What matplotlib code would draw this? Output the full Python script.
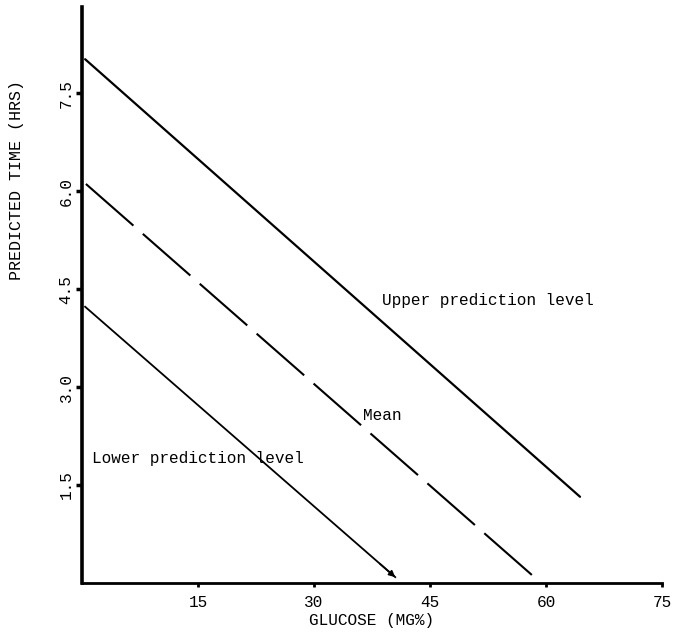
import matplotlib
matplotlib.use('Agg')
import matplotlib.pyplot as plt

# line end points (glucose mg%, predicted hrs)
upper_x = [0.4, 64.4]
upper_y = [8.02, 1.32]
mean_x = [0.5, 58.2]
mean_y = [6.11, 0.12]
lower_x = [0.4, 40.5]
lower_y = [4.23, 0.09]

xticks = [15, 30, 45, 60, 75]
yticks = [1.5, 3.0, 4.5, 6.0, 7.5]

plt.rcParams['font.family'] = ['Liberation Mono', 'DejaVu Sans Mono']
plt.rcParams['lines.scale_dashes'] = False

fig = plt.figure(figsize=(6.74, 6.33), dpi=100)
ax = fig.add_axes([0.1217, 0.079, 0.8605, 0.91])

ax.plot(upper_x, upper_y, color='black', lw=1.6, solid_capstyle='round')
ax.plot(mean_x, mean_y, color='black', lw=1.5, linestyle=(0, (45.5, 9)))
ax.plot(lower_x, lower_y, color='black', lw=1.3)
# small arrow head at end of lower line
ax.annotate('', xy=(lower_x[1], lower_y[1]),
            xytext=(lower_x[1] - 0.05 * (lower_x[1] - lower_x[0]),
                    lower_y[1] - 0.05 * (lower_y[1] - lower_y[0])),
            arrowprops=dict(arrowstyle='-|>', color='black', lw=1.2,
                            mutation_scale=9, shrinkA=0, shrinkB=0))

ax.text(38.8, 4.32, 'Upper prediction level', fontsize=11.6, va='center')
ax.text(36.3, 2.57, 'Mean', fontsize=11.6, va='center')
ax.text(1.3, 1.91, 'Lower prediction level', fontsize=11.6, va='center')

ax.set_xlim(0, 75)
ax.set_ylim(0, 8.82)
ax.set_xticks(xticks)
ax.set_yticks(yticks)
ax.set_xticklabels([str(t) for t in xticks], fontsize=11.6)
ax.set_yticklabels(['%.1f' % t for t in yticks], fontsize=11.6, rotation=90, va='center')

ax.spines['top'].set_visible(False)
ax.spines['right'].set_visible(False)
ax.spines['left'].set_linewidth(2.6)
ax.spines['bottom'].set_linewidth(2.0)
ax.tick_params(axis='y', length=4, width=2.5, pad=2)
ax.tick_params(axis='x', length=3, width=2, pad=6)

ax.set_xlabel('GLUCOSE (MG%)', fontsize=11.6)
ax.set_ylabel('PREDICTED TIME (HRS)', fontsize=12)
ax.xaxis.set_label_coords(0.5, -0.052)
ax.yaxis.set_label_coords(-0.10, 0.70)

fig.savefig('out.png', dpi=100)
